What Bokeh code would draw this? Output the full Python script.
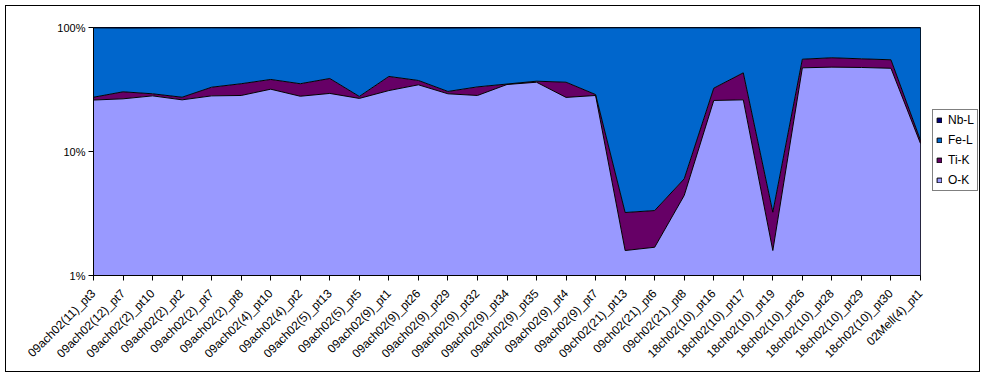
import numpy as np
from bokeh.plotting import figure
from bokeh.layouts import row
from bokeh.models import (FixedTicker, Legend, LegendItem, Range1d,
                          CustomJSTickFormatter)
from bokeh.embed import file_html
from bokeh.resources import INLINE

categories = [
    "09ach02(11)_pt3", "09ach02(12)_pt7", "09ach02(2)_pt10", "09ach02(2)_pt2",
    "09ach02(2)_pt7", "09ach02(2)_pt8", "09ach02(4)_pt10", "09ach02(4)_pt2",
    "09ach02(5)_pt13", "09ach02(5)_pt5", "09ach02(9)_pt1", "09ach02(9)_pt26",
    "09ach02(9)_pt29", "09ach02(9)_pt32", "09ach02(9)_pt34", "09ach02(9)_pt35",
    "09ach02(9)_pt4", "09ach02(9)_pt7", "09ch02(21)_pt13", "09ch02(21)_pt6",
    "09ch02(21)_pt8", "18ch02(10)_pt16", "18ch02(10)_pt17", "18ch02(10)_pt19",
    "18ch02(10)_pt26", "18ch02(10)_pt28", "18ch02(10)_pt29", "18ch02(10)_pt30",
    "02Mell(4)_pt1",
]

o_k = [26.0, 26.6, 28.1, 26.1, 28.1, 28.3, 31.8, 27.9, 29.4, 26.8, 31.0, 34.5,
       29.2, 28.3, 34.7, 36.2, 27.3, 28.3, 1.59, 1.69, 4.42, 25.8, 26.1, 1.59,
       47.3, 47.9, 47.6, 46.9, 11.6]
ti_k = [1.4, 3.7, 1.1, 1.3, 4.9, 6.9, 6.3, 7.3, 9.4, 1.0, 9.3, 2.9,
        1.3, 4.9, 0.3, 0.7, 8.9, 0.5, 1.63, 1.65, 1.6, 6.6, 17.0, 1.65,
        8.2, 9.1, 8.3, 8.0, 0.7]
fe_l = [72.0, 68.7, 70.0, 72.1, 66.4, 64.0, 61.0, 64.0, 60.3, 71.7, 59.1, 61.8,
        68.6, 66.1, 64.5, 62.3, 62.9, 70.6, 96.28, 96.16, 93.48, 67.0, 56.0, 96.26,
        43.9, 42.1, 43.3, 44.5, 87.2]
nb_l = [0.6, 1.0, 0.8, 0.5, 0.6, 0.8, 0.9, 0.8, 0.9, 0.5, 0.6, 0.8,
        0.9, 0.7, 0.5, 0.8, 0.9, 0.6, 0.5, 0.5, 0.5, 0.6, 0.9, 0.5,
        0.6, 0.9, 0.8, 0.6, 0.5]

series_names = ["O-K", "Ti-K", "Fe-L", "Nb-L"]
series_vals = [o_k, ti_k, fe_l, nb_l]
colors = ["#9999FF", "#660066", "#0066CC", "#000080"]

y_ticks = [1, 10, 100]

FONT = "Liberation Sans"

x = list(range(len(categories)))
stack = np.cumsum(np.array(series_vals, dtype=float), axis=0)
base = y_ticks[0]
bottoms = [[base] * len(x)] + [list(stack[i - 1]) for i in range(1, len(series_names))]
tops = [list(stack[i]) for i in range(len(series_names))]

# ---- main chart ----
p = figure(width=919, height=365, output_backend="svg", toolbar_location=None,
           y_axis_type="log", x_range=Range1d(0, len(categories) - 1),
           y_range=Range1d(y_ticks[0], y_ticks[-1]),
           min_border_left=87, min_border_right=5, min_border_top=21,
           min_border_bottom=96)
p.background_fill_color = "white"
p.border_fill_color = "white"
p.outline_line_color = "black"
p.xgrid.visible = False
p.ygrid.visible = False

for i, name in enumerate(series_names):
    p.varea(x=x, y1=bottoms[i], y2=tops[i], fill_color=colors[i], fill_alpha=1.0)
for i in range(len(series_names) - 1):
    p.line(x=x, y=tops[i], line_color="black", line_width=1)

p.xaxis.ticker = FixedTicker(ticks=x)
p.xaxis.major_label_overrides = {i: c for i, c in enumerate(categories)}
p.xaxis.major_label_orientation = np.pi / 4
p.xaxis.major_label_text_font = FONT
p.xaxis.major_label_text_font_size = "12px"
p.xaxis.major_label_text_color = "black"
p.xaxis.major_label_standoff = 11
p.xaxis.major_tick_out = 5
p.xaxis.major_tick_in = 0
p.xaxis.minor_tick_line_color = None
p.xaxis.axis_line_color = "black"

p.yaxis.ticker = FixedTicker(ticks=y_ticks)
p.yaxis.formatter = CustomJSTickFormatter(code="return tick + '%';")
p.yaxis.major_label_text_font = FONT
p.yaxis.major_label_text_font_size = "11px"
p.yaxis.major_label_text_color = "black"
p.yaxis.major_label_standoff = 3
p.yaxis.major_tick_out = 5
p.yaxis.major_tick_in = 0
p.yaxis.minor_tick_line_color = None
p.yaxis.axis_line_color = "black"

# ---- legend panel (its frame is aligned with the main chart's frame) ----
lp = figure(width=54, height=365, output_backend="svg", toolbar_location=None,
            x_axis_type=None, y_axis_type=None,
            x_range=Range1d(0, 1), y_range=Range1d(0, 1),
            min_border=0, min_border_left=0, min_border_right=0,
            min_border_top=0, min_border_bottom=0)
lp.outline_line_color = None
lp.background_fill_color = "white"
lp.border_fill_color = "white"
lp.xgrid.visible = False
lp.ygrid.visible = False

legend_renderers = []
for i, name in enumerate(series_names):
    r = lp.quad(left=x, right=x, bottom=bottoms[i], top=tops[i],
                fill_color=colors[i], fill_alpha=1.0,
                line_color="black", line_width=1, visible=False)
    legend_renderers.append(r)

items = [LegendItem(label=series_names[i], renderers=[legend_renderers[i]])
         for i in reversed(range(len(series_names)))]
legend = Legend(items=items, location=(7, 84), label_text_font=FONT,
                label_text_font_size="12px", label_text_color="black",
                glyph_width=6, glyph_height=6,
                label_height=14, label_standoff=6, spacing=6, padding=3,
                margin=0, border_line_color="black", border_line_width=1,
                background_fill_color="white", background_fill_alpha=1.0,
                inactive_fill_alpha=0.0)
lp.add_layout(legend, "center")

layout = row(p, lp, spacing=0,
             styles={"border": "1px solid black", "margin-left": "5px",
                     "margin-top": "5px"})

open("out.html", "w").write(file_html(layout, INLINE))
